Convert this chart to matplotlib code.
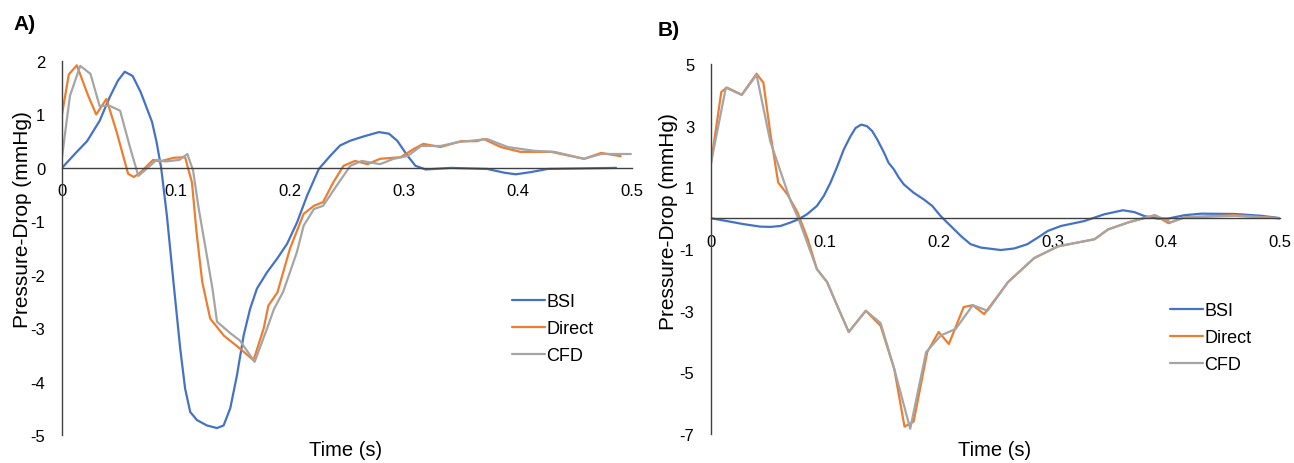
"""Pressure-drop traces: BSI vs direct vs CFD, two cases side by side."""

import matplotlib

matplotlib.use("Agg")

import matplotlib.pyplot as plt

plt.rcParams["font.family"] = ["Liberation Sans", "DejaVu Sans"]
plt.rcParams["axes.unicode_minus"] = False

SERIES = ["BSI", "Direct", "CFD"]
COLORS = {"BSI": "#4472C4", "Direct": "#ED7D31", "CFD": "#A5A5A5"}

X_TICKS = [0, 0.1, 0.2, 0.3, 0.4, 0.5]
X_TICK_LABELS = ["0", "0.1", "0.2", "0.3", "0.4", "0.5"]

# ---- panel A ----
A_Y_TICKS = [2, 1, 0, -1, -2, -3, -4, -5]
A_BSI_T = [0, 0.013, 0.022, 0.033, 0.042, 0.049, 0.055, 0.062, 0.069, 0.079,
           0.083, 0.087, 0.092, 0.0978, 0.1037, 0.108, 0.1125, 0.1184, 0.127,
           0.136, 0.1418, 0.1476, 0.1535, 0.1594, 0.165, 0.171, 0.180, 0.1887,
           0.1975, 0.2062, 0.215, 0.2253, 0.2355, 0.244, 0.253, 0.2648, 0.278,
           0.2868, 0.294, 0.303, 0.310, 0.319, 0.341, 0.373, 0.388, 0.398,
           0.411, 0.426, 0.486]
A_BSI_Y = [0, 0.30, 0.50, 0.88, 1.33, 1.63, 1.80, 1.72, 1.42, 0.86,
           0.48, 0.0, -0.89, -2.14, -3.38, -4.13, -4.57, -4.72, -4.82,
           -4.87, -4.82, -4.50, -3.88, -3.13, -2.64, -2.26, -1.95, -1.70,
           -1.42, -1.02, -0.52, -0.02, 0.23, 0.42, 0.51, 0.59, 0.67,
           0.64, 0.51, 0.23, 0.04, -0.03, 0.0, -0.02, -0.09, -0.12,
           -0.08, -0.02, 0.0]
A_DIR_T = [0, 0.006, 0.013, 0.023, 0.030, 0.039, 0.048, 0.058, 0.063, 0.068,
           0.080, 0.086, 0.098, 0.108, 0.110, 0.114, 0.118, 0.123, 0.130,
           0.142, 0.156, 0.168, 0.177, 0.181, 0.189, 0.200, 0.212, 0.221,
           0.229, 0.238, 0.247, 0.257, 0.268, 0.279, 0.297, 0.309, 0.317,
           0.332, 0.350, 0.364, 0.370, 0.385, 0.402, 0.429, 0.458, 0.473,
           0.490]
A_DIR_Y = [1.0, 1.75, 1.92, 1.35, 1.0, 1.29, 0.67, -0.11, -0.17, -0.10,
           0.15, 0.12, 0.19, 0.20, 0.04, -0.27, -1.20, -2.13, -2.82,
           -3.14, -3.38, -3.60, -3.00, -2.58, -2.33, -1.51, -0.86, -0.71,
           -0.64, -0.27, 0.04, 0.13, 0.07, 0.17, 0.20, 0.36, 0.45,
           0.39, 0.50, 0.50, 0.54, 0.39, 0.30, 0.30, 0.17, 0.28,
           0.22]
A_CFD_T = [0, 0.007, 0.016, 0.025, 0.033, 0.042, 0.051, 0.060, 0.067, 0.072,
           0.083, 0.091, 0.103, 0.110, 0.115, 0.120, 0.126, 0.132, 0.136,
           0.148, 0.156, 0.169, 0.180, 0.186, 0.194, 0.206, 0.212, 0.221,
           0.229, 0.241, 0.253, 0.263, 0.279, 0.291, 0.303, 0.315, 0.332,
           0.347, 0.373, 0.391, 0.414, 0.432, 0.458, 0.473, 0.499]
A_CFD_Y = [0.2, 1.35, 1.91, 1.76, 1.16, 1.16, 1.07, 0.36, -0.15, -0.06,
           0.15, 0.12, 0.15, 0.26, -0.05, -0.77, -1.51, -2.26, -2.88,
           -3.10, -3.23, -3.63, -3.00, -2.64, -2.32, -1.58, -1.08, -0.77,
           -0.71, -0.33, 0.04, 0.13, 0.07, 0.17, 0.22, 0.41, 0.41,
           0.48, 0.54, 0.39, 0.32, 0.30, 0.17, 0.26, 0.26]

# ---- panel B ----
B_Y_TICKS = [5, 3, 1, -1, -3, -5, -7]
B_BSI_T = [0, 0.0138, 0.0285, 0.0432, 0.052, 0.061, 0.0696, 0.077, 0.0843,
           0.093, 0.099, 0.105, 0.111, 0.1166, 0.1225, 0.127, 0.132, 0.137,
           0.1416, 0.146, 0.152, 0.156, 0.1606, 0.165, 0.1694, 0.178, 0.187,
           0.1944, 0.2018, 0.2106, 0.2194, 0.228, 0.237, 0.2546, 0.2664,
           0.278, 0.287, 0.296, 0.3075, 0.328, 0.3456, 0.362, 0.372, 0.381,
           0.3927, 0.4015, 0.416, 0.431, 0.460, 0.4837, 0.501]
B_BSI_Y = [0, -0.09, -0.19, -0.27, -0.28, -0.25, -0.14, -0.03, 0.13,
           0.40, 0.72, 1.16, 1.69, 2.23, 2.66, 2.93, 3.04, 2.99,
           2.83, 2.56, 2.13, 1.80, 1.59, 1.32, 1.10, 0.83, 0.61,
           0.40, 0.07, -0.25, -0.57, -0.84, -0.95, -1.03, -0.98,
           -0.84, -0.63, -0.41, -0.25, -0.09, 0.13, 0.26, 0.20, 0.07,
           -0.01, -0.01, 0.10, 0.15, 0.14, 0.08, 0.0]
B_DIR_T = [0, 0.009, 0.014, 0.027, 0.040, 0.046, 0.052, 0.059, 0.067, 0.076,
           0.085, 0.093, 0.102, 0.111, 0.121, 0.136, 0.149, 0.161, 0.170,
           0.178, 0.190, 0.200, 0.209, 0.222, 0.230, 0.240, 0.261, 0.284,
           0.305, 0.337, 0.349, 0.367, 0.390, 0.402, 0.416, 0.460, 0.500]
B_DIR_Y = [1.8, 4.10, 4.24, 4.01, 4.69, 4.40, 2.78, 1.16, 0.78, 0.19,
           -0.68, -1.65, -2.07, -2.85, -3.69, -3.00, -3.49, -4.89, -6.76,
           -6.60, -4.34, -3.69, -4.08, -2.88, -2.82, -3.11, -2.07, -1.29,
           -0.91, -0.68, -0.36, -0.13, 0.10, -0.16, 0.03, 0.10, 0.0]
B_CFD_T = [0, 0.013, 0.027, 0.040, 0.052, 0.070, 0.077, 0.093, 0.102, 0.111,
           0.121, 0.136, 0.149, 0.161, 0.175, 0.189, 0.202, 0.215, 0.230,
           0.243, 0.261, 0.284, 0.305, 0.337, 0.349, 0.367, 0.390, 0.404,
           0.416, 0.460, 0.500]
B_CFD_Y = [1.8, 4.24, 4.00, 4.65, 2.50, 0.55, -0.03, -1.65, -2.07, -2.85,
           -3.69, -3.00, -3.40, -4.89, -6.83, -4.34, -3.80, -3.59, -2.82,
           -3.00, -2.07, -1.29, -0.91, -0.68, -0.36, -0.13, 0.10, -0.13,
           0.03, 0.08, 0.0]


def draw_panel(ax, curves, y_ticks, ylim, legend_anchor):
    for name, (t, y) in zip(SERIES, curves):
        ax.plot(t, y, color=COLORS[name], linewidth=1.6, label=name,
                solid_joinstyle="round", solid_capstyle="round")

    ax.set_xlim(0, 0.5)
    ax.set_ylim(*ylim)
    ax.set_xticks(X_TICKS)
    ax.set_xticklabels(X_TICK_LABELS)
    ax.set_yticks(y_ticks)
    ax.set_yticklabels([str(v) for v in y_ticks])

    for side in ["top", "right"]:
        ax.spines[side].set_visible(False)
    ax.spines["bottom"].set_position(("data", 0))
    ax.spines["bottom"].set_color("#404040")
    ax.spines["left"].set_color("#404040")
    ax.spines["bottom"].set_linewidth(1.0)
    ax.spines["left"].set_linewidth(1.0)
    ax.tick_params(axis="x", length=0, pad=11, labelsize=12)
    ax.tick_params(axis="y", length=0, pad=12, labelsize=12)

    ax.legend(
        loc="center left",
        bbox_to_anchor=legend_anchor,
        frameon=False,
        fontsize=13,
        handlelength=1.8,
        handletextpad=0.1,
        labelspacing=0.55,
        borderpad=0,
        borderaxespad=0,
    )


fig = plt.figure(figsize=(12.94, 4.64), dpi=100)
ax_a = fig.add_axes([0.0479, 0.0603, 0.4405, 0.806])
ax_b = fig.add_axes([0.5495, 0.0625, 0.4397, 0.797])

draw_panel(
    ax_a,
    [(A_BSI_T, A_BSI_Y), (A_DIR_T, A_DIR_Y), (A_CFD_T, A_CFD_Y)],
    A_Y_TICKS,
    (-5, 2),
    (0.79, 0.285),
)
draw_panel(
    ax_b,
    [(B_BSI_T, B_BSI_Y), (B_DIR_T, B_DIR_Y), (B_CFD_T, B_CFD_Y)],
    B_Y_TICKS,
    (-7, 5),
    (0.807, 0.26),
)

H = 464.0
W = 1294.0
fig.text(13 / W, 1 - 25 / H, "A)", fontsize=15, fontweight="bold", va="center", ha="left")
fig.text(658 / W, 1 - 30 / H, "B)", fontsize=15, fontweight="bold", va="center", ha="left")
fig.text(23 / W, 1 - 220 / H, "Pressure-Drop (mmHg)", rotation=90, fontsize=15,
         va="center", ha="center")
fig.text(668 / W, 1 - 222 / H, "Pressure-Drop (mmHg)", rotation=90, fontsize=15,
         va="center", ha="center")
fig.text(346 / W, 1 - 451 / H, "Time (s)", fontsize=14.5, va="center", ha="center")
fig.text(995 / W, 1 - 451 / H, "Time (s)", fontsize=14.5, va="center", ha="center")

fig.savefig("out.png", dpi=100)
